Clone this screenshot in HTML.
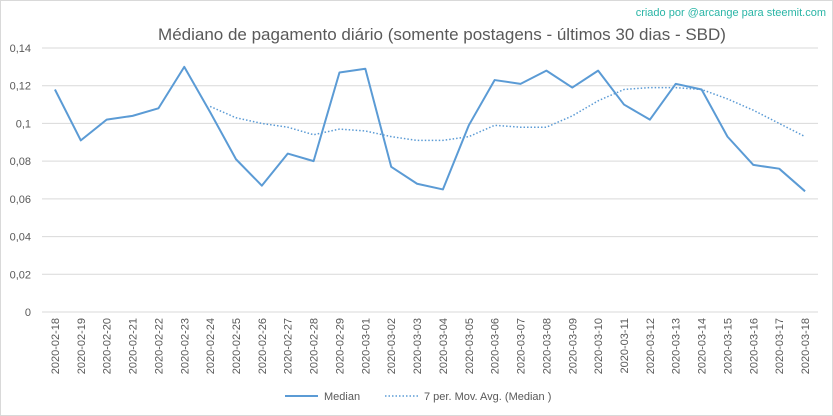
<!DOCTYPE html>
<html><head><meta charset="utf-8"><style>
html,body{margin:0;padding:0;background:#fff}
svg{display:block;font-family:"Liberation Sans",sans-serif}
</style></head><body>
<svg id="chart" width="833" height="416" viewBox="0 0 833 416">
<rect x="0.5" y="0.5" width="832" height="415" fill="#fff" stroke="#d9d9d9"/>
<text x="826" y="16" text-anchor="end" font-size="11" fill="#2ab5a6">criado por @arcange para steemit.com</text>
<text x="442" y="40" text-anchor="middle" font-size="17" fill="#595959">Médiano de pagamento diário (somente postagens - últimos 30 dias - SBD)</text>
<g id="grid"></g><g id="xlabels"></g><g id="series"></g>
<g>
<line x1="285" y1="396" x2="318" y2="396" stroke="#5b9bd5" stroke-width="2"/>
<text x="324" y="400" font-size="11" fill="#595959">Median</text>
<line x1="385" y1="396" x2="418" y2="396" stroke="#5b9bd5" stroke-width="1.5" stroke-dasharray="1.5,2"/>
<text x="424" y="400" font-size="11" fill="#595959">7 per. Mov. Avg. (Median )</text>
</g>
</svg>
<script>
const categories=["2020-02-18","2020-02-19","2020-02-20","2020-02-21","2020-02-22","2020-02-23","2020-02-24","2020-02-25","2020-02-26","2020-02-27","2020-02-28","2020-02-29","2020-03-01","2020-03-02","2020-03-03","2020-03-04","2020-03-05","2020-03-06","2020-03-07","2020-03-08","2020-03-09","2020-03-10","2020-03-11","2020-03-12","2020-03-13","2020-03-14","2020-03-15","2020-03-16","2020-03-17","2020-03-18"];
const medianValues=[0.118,0.091,0.102,0.104,0.108,0.130,0.106,0.081,0.067,0.084,0.080,0.127,0.129,0.077,0.068,0.065,0.099,0.123,0.121,0.128,0.119,0.128,0.110,0.102,0.121,0.118,0.093,0.078,0.076,0.064];
const movingAvgValues=[null,null,null,null,null,null,0.109,0.103,0.100,0.098,0.094,0.097,0.096,0.093,0.091,0.091,0.093,0.099,0.098,0.098,0.104,0.112,0.118,0.119,0.119,0.118,0.113,0.107,0.100,0.093];
const yTicks=[0,0.02,0.04,0.06,0.08,0.1,0.12,0.14];
const yTickLabels=["0","0,02","0,04","0,06","0,08","0,1","0,12","0,14"];
const NS="http://www.w3.org/2000/svg";
const plotLeft=42,plotRight=818,plotTop=48,plotBottom=312,yMax=0.14;
const step=(plotRight-plotLeft)/categories.length;
function xS(i){return plotLeft+step*(i+0.5);}
function yS(v){return plotBottom-(v/yMax)*(plotBottom-plotTop);}
function mk(tag,attrs,parent){const e=document.createElementNS(NS,tag);for(const k in attrs)e.setAttribute(k,attrs[k]);parent.appendChild(e);return e;}
const grid=document.getElementById('grid');
yTicks.forEach((t,i)=>{
 const l=mk('line',{x1:plotLeft,x2:plotRight,y1:yS(t),y2:yS(t),stroke:'#d9d9d9','stroke-width':1},grid);
 
 
 const tx=mk('text',{x:31,y:yS(t)+4,'text-anchor':'end','font-size':11,fill:'#595959'},grid);
 tx.textContent=yTickLabels[i];
 
 
});
const xl=document.getElementById('xlabels');
categories.forEach((c,i)=>{
 const tx=mk('text',{x:0,y:0,'text-anchor':'end','font-size':11,fill:'#595959',transform:`translate(${xS(i)+4},318) rotate(-90)`},xl);
 tx.textContent=c;
 
 
});
const sg=document.getElementById('series');
const p1=mk('polyline',{points:medianValues.map((v,i)=>xS(i)+','+yS(v)).join(' '),fill:'none',stroke:'#5b9bd5','stroke-width':2,'stroke-linejoin':'round'},sg);


const pts=[];movingAvgValues.forEach((v,i)=>{if(v!==null)pts.push(xS(i)+','+yS(v));});
const p2=mk('polyline',{points:pts.join(' '),fill:'none',stroke:'#5b9bd5','stroke-width':1.5,'stroke-dasharray':'1.5,2'},sg);


</script>
</body></html>
